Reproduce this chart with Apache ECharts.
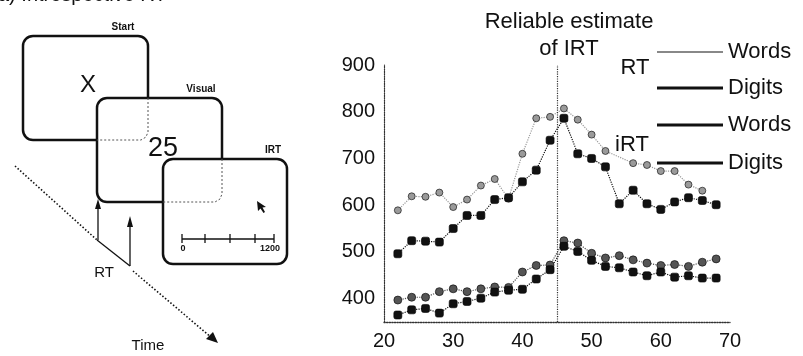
<!DOCTYPE html>
<html>
<head>
<meta charset="utf-8">
<script src="https://cdn.jsdelivr.net/npm/echarts@6/dist/echarts.min.js"></script>
<style>
  html, body { margin: 0; padding: 0; background: #fff; }
  #chart { width: 803px; height: 356px; }
</style>
</head>
<body>
<div id="chart"></div>
<script>
// trial position (x) of each point
const trials = [22, 24, 26, 28, 30, 32, 34, 36, 38, 40, 42, 44, 46, 48, 50, 52, 54, 56, 58, 60, 62, 64, 66, 68]

// RT (upper pair) and iRT (lower pair)
const rtWords = [589, 619, 618, 627, 596, 612, 642, 656, 614, 710, 786, 789, 807, 783, 751, 716, null, 690, 686, 673, 673, 644, 631, null]
const rtDigits = [496, 524, 523, 521, 550, 578, 578, 612, 616, 650, 675, 739, 786, 710, 700, 682, 603, 632, 603, 591, 607, 616, 610, 601]
const irtWords = [397, 403, 403, 415, 421, 415, 421, 425, 424, 457, 471, 472, 524, 519, 497, 487, 492, 483, 476, 471, 473, 469, 478, 485]
const irtDigits = [365, 376, 379, 369, 389, 394, 401, 414, 418, 420, 442, 462, 512, 501, 482, 469, 466, 457, 449, 457, 446, 449, 444, 444]

const xTicks = [20, 30, 40, 50, 60, 70]
const yTicks = [400, 500, 600, 700, 800, 900]
const markerLine = 45

const font = 'Liberation Sans, Arial, Helvetica, sans-serif'
const pairs = vals => trials.map((t, i) => [t, vals[i]])

const chart = echarts.init(document.getElementById('chart'))

function legendAt(name, top, color, h) {
  return {
    data: [{ name, icon: 'rect', itemStyle: { color, borderWidth: 0 } }],
    left: 657,
    top,
    padding: 0,
    itemWidth: 66,
    itemHeight: h,
    selectedMode: false,
    formatter: n => n.split(' ')[1],
    textStyle: { fontFamily: font, fontSize: 22, lineHeight: 22, color: '#111' },
  }
}

function lineSeries(name, vals, color, symbol, size) {
  return {
    name,
    type: 'line',
    data: pairs(vals),
    connectNulls: true,
    symbol,
    symbolSize: size,
    itemStyle: { color, borderColor: '#000', borderWidth: 0.6 },
    lineStyle: { color, width: 1.2, type: 'dotted' },
  }
}

// left panel: trial diagram
const stroke = '#111'
const diagram = [
  { type: 'text', style: { text: 'a) Introspective RT', x: -2, y: -5, textVerticalAlign: 'middle', font: '20px ' + font, fill: '#111' } },
  // start box
  { type: 'rect', z: 1, shape: { x: 23, y: 36, width: 125, height: 104, r: 10 }, style: { fill: '#fff', stroke, lineWidth: 2.5 } },
  // visual box
  { type: 'rect', z: 2, shape: { x: 97, y: 98, width: 125, height: 104, r: 10 }, style: { fill: '#fff', stroke, lineWidth: 2.5 } },
  { type: 'polyline', z: 3, shape: { points: [[148, 98], [148, 132], [146, 137], [141, 140], [97, 140]] }, style: { stroke: '#555', lineWidth: 1, lineDash: [2, 2] } },
  // IRT box
  { type: 'rect', z: 4, shape: { x: 163, y: 159, width: 124, height: 105, r: 10 }, style: { fill: '#fff', stroke, lineWidth: 2.5 } },
  { type: 'polyline', z: 5, shape: { points: [[222, 159], [222, 194], [220, 199], [215, 202], [163, 202]] }, style: { stroke: '#555', lineWidth: 1, lineDash: [2, 2] } },
  { type: 'text', z: 6, style: { text: 'Start', x: 123, y: 27, textAlign: 'center', textVerticalAlign: 'middle', font: 'bold 10px ' + font, fill: '#111' } },
  { type: 'text', z: 6, style: { text: 'Visual', x: 201, y: 89, textAlign: 'center', textVerticalAlign: 'middle', font: 'bold 10px ' + font, fill: '#111' } },
  { type: 'text', z: 6, style: { text: 'IRT', x: 273, y: 150, textAlign: 'center', textVerticalAlign: 'middle', font: 'bold 10px ' + font, fill: '#111' } },
  { type: 'text', z: 6, style: { text: 'X', x: 88, y: 85, textAlign: 'center', textVerticalAlign: 'middle', font: '24px ' + font, fill: '#111' } },
  { type: 'text', z: 6, style: { text: '25', x: 163, y: 149, textAlign: 'center', textVerticalAlign: 'middle', font: '27px ' + font, fill: '#111' } },
  // rating scale inside IRT box
  { type: 'polyline', z: 6, shape: { points: [[182, 239], [274, 239]] }, style: { stroke, lineWidth: 1.5 } },
  ...[182, 205, 230, 255, 274].map(x => ({ type: 'polyline', z: 6, shape: { points: [[x, 234], [x, 243]] }, style: { stroke, lineWidth: 1.3 } })),
  { type: 'text', z: 6, style: { text: '0', x: 183, y: 249, textAlign: 'center', textVerticalAlign: 'middle', font: 'bold 9px ' + font, fill: '#111' } },
  { type: 'text', z: 6, style: { text: '1200', x: 270, y: 249, textAlign: 'center', textVerticalAlign: 'middle', font: 'bold 9px ' + font, fill: '#111' } },
  // cursor
  { type: 'polygon', z: 6, shape: { points: [[257, 201], [258, 211], [260.5, 208.5], [263.5, 213], [265, 212], [262.5, 207.5], [266, 207]] }, style: { fill: '#111' } },
  // time axis
  { type: 'polyline', shape: { points: [[15, 166], [97, 240]] }, style: { stroke, lineWidth: 1.6, lineDash: [1.5, 2] } },
  { type: 'polyline', shape: { points: [[97, 240], [130, 266]] }, style: { stroke, lineWidth: 1.3 } },
  { type: 'polyline', shape: { points: [[133, 271], [212, 338]] }, style: { stroke, lineWidth: 1.6, lineDash: [1.5, 2] } },
  { type: 'polygon', shape: { points: [[218, 343], [206, 339], [213, 332]] }, style: { fill: '#111' } },
  // RT arrows
  { type: 'polyline', shape: { points: [[98, 240], [98, 205]] }, style: { stroke, lineWidth: 1.3 } },
  { type: 'polygon', shape: { points: [[98, 199], [95, 209], [101, 209]] }, style: { fill: '#111' } },
  { type: 'polyline', shape: { points: [[130, 266], [130, 222]] }, style: { stroke, lineWidth: 1.3 } },
  { type: 'polygon', shape: { points: [[130, 216], [127, 227], [133, 227]] }, style: { fill: '#111' } },
  { type: 'text', style: { text: 'RT', x: 104, y: 273, textAlign: 'center', textVerticalAlign: 'middle', font: '15px ' + font, fill: '#111' } },
  { type: 'text', style: { text: 'Time', x: 148, y: 346, textAlign: 'center', textVerticalAlign: 'middle', font: '15px ' + font, fill: '#111' } },
  // group labels for the legend
  { type: 'text', style: { text: 'RT', x: 635, y: 68, textAlign: 'center', textVerticalAlign: 'middle', font: '22px ' + font, fill: '#111' } },
  { type: 'text', style: { text: 'iRT', x: 632, y: 145, textAlign: 'center', textVerticalAlign: 'middle', font: '22px ' + font, fill: '#111' } },
]

const rtDigitSeries = lineSeries('RT Digits', rtDigits, '#111', 'roundRect', 8)
rtDigitSeries.markLine = {
  silent: true,
  symbol: 'none',
  label: { show: false },
  lineStyle: { color: '#333', type: 'dotted', width: 1.2 },
  data: [{ xAxis: markerLine }],
}

chart.setOption({
  animation: false,
  backgroundColor: '#fff',
  title: {
    text: 'Reliable estimate\nof IRT',
    left: 564,
    top: 3,
    textAlign: 'center',
    textStyle: { fontFamily: font, fontSize: 22, fontWeight: 'normal', lineHeight: 27, color: '#111' },
  },
  grid: { left: 384, right: 73, top: 65, bottom: 34 },
  legend: [
    legendAt('RT Words', 41, '#888', 2),
    legendAt('RT Digits', 77, '#111', 3),
    legendAt('iRT Words', 114, '#111', 3),
    legendAt('iRT Digits', 152, '#111', 3),
  ],
  xAxis: {
    type: 'value',
    min: xTicks[0],
    max: xTicks[xTicks.length - 1],
    interval: 10,
    splitLine: { show: false },
    axisTick: { show: false },
    axisLine: { lineStyle: { color: '#333', type: 'dotted', width: 1.3 } },
    axisLabel: { color: '#111', fontFamily: font, fontSize: 20, margin: 9 },
  },
  yAxis: {
    type: 'value',
    min: 350,
    max: yTicks[yTicks.length - 1],
    interval: 50,
    splitLine: { show: false },
    axisTick: { show: false },
    axisLine: { show: true, lineStyle: { color: '#333', type: 'dotted', width: 1.2 } },
    axisLabel: {
      color: '#111', fontFamily: font, fontSize: 20, margin: 9,
      formatter: v => (yTicks.includes(v) ? String(v) : ''),
    },
  },
  series: [
    lineSeries('RT Words', rtWords, '#9a9a9a', 'circle', 7),
    rtDigitSeries,
    lineSeries('iRT Words', irtWords, '#555', 'circle', 8),
    lineSeries('iRT Digits', irtDigits, '#111', 'roundRect', 8),
  ],
  graphic: diagram,
})
</script>
</body>
</html>
